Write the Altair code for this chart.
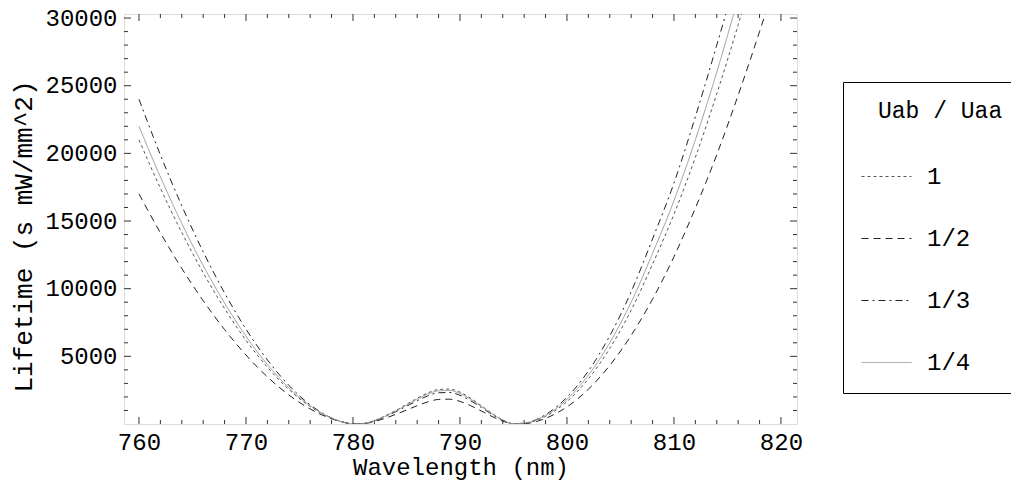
import altair as alt
import pandas as pd

# ---- data ----
wavelength = [760, 762, 764, 766, 768, 770, 772, 774, 776, 778, 779, 780,
              781, 782, 783, 784, 785, 786, 787, 788, 789, 790, 791, 792, 793, 794, 795,
              796, 798, 800, 802, 804, 806, 808, 810, 812, 814, 816, 818, 820]

life_1 = [21000, 17430, 14150, 11180, 8530, 6190, 4200, 2560, 1290, 420, 149, 10,
          40, 250, 600, 1000, 1450, 1900, 2300, 2550, 2580, 2350, 1900, 1350, 780, 300, 20,
          46, 565, 1661, 3333, 5583, 8409, 11811, 15500, 19700, 24400, 29500, 35000, 41000]
life_2 = [17000, 14130, 11500, 9115, 6980, 5100, 3485, 2150, 1110, 385, 154, 21,
          28, 178, 425, 712, 1032, 1352, 1637, 1815, 1835, 1672, 1352, 960, 555, 213, 15,
          28, 417, 1264, 2568, 4330, 6550, 9227, 12362, 15955, 19900, 24300, 29000, 34000]
life_3 = [24000, 19890, 16130, 12730, 9685, 7015, 4740, 2865, 1420, 444, 149, 5,
          35, 226, 540, 905, 1311, 1718, 2080, 2305, 2331, 2124, 1718, 1220, 705, 270, 19,
          67, 692, 1974, 3915, 6514, 9770, 13684, 17800, 22700, 28000, 33500, 39500, 46000]
life_4 = [22000, 18260, 14820, 11710, 8940, 6485, 4400, 2680, 1350, 440, 156, 10,
          38, 240, 575, 962, 1395, 1828, 2212, 2452, 2480, 2260, 1828, 1298, 750, 288, 20,
          61, 637, 1819, 3607, 6001, 9001, 12607, 16500, 21000, 26000, 31500, 37500, 44000]

series_names = ["1", "1/2", "1/3", "1/4"]
series_colors = ["#555555", "#222222", "#222222", "#999999"]
series_dashes = [[3, 3], [7, 5], [7, 4, 2, 4], [1, 0]]

x_major = [760, 770, 780, 790, 800, 810, 820]
x_minor = [762, 764, 766, 768, 772, 774, 776, 778, 782, 784, 786, 788,
           792, 794, 796, 798, 802, 804, 806, 808, 812, 814, 816, 818]
y_major = [5000, 10000, 15000, 20000, 25000, 30000]
y_minor = [1000, 2000, 3000, 4000, 6000, 7000, 8000, 9000, 11000, 12000, 13000, 14000,
           16000, 17000, 18000, 19000, 21000, 22000, 23000, 24000, 26000, 27000, 28000, 29000]

W, H = 673, 410
FONT = "Liberation Mono"
BLANK = "\u2800"  # blank glyph (not trimmed): indents the legend title and widens the box

rows = []
for name, vals in zip(series_names, [life_1, life_2, life_3, life_4]):
    for w, v in zip(wavelength, vals):
        rows.append({"wl": w, "life": v, "ratio": name})
df = pd.DataFrame(rows)

xscale = alt.Scale(domain=[758.6, 821.5], nice=False, zero=False)
yscale = alt.Scale(domain=[0, 30300], nice=False)

legend = alt.Legend(
    title=BLANK + "Uab / Uaa" + BLANK * 3, titleLimit=500,
    orient="none", legendX=719, legendY=68, direction="vertical",
    symbolType="stroke", symbolSize=2500, symbolStrokeWidth=1,
    labelFont=FONT, labelFontSize=24, labelColor="black", labelOffset=15,
    titleFont=FONT, titleFontSize=23, titleFontWeight="normal", titleColor="black",
    titlePadding=28, rowPadding=24, padding=18,
    strokeColor="black", fillColor="white",
)

lines = alt.Chart(df).mark_line(clip=True, strokeWidth=1, interpolate="monotone").encode(
    x=alt.X("wl:Q", scale=xscale,
            axis=alt.Axis(values=x_major, format="d", title="Wavelength (nm)",
                          labelFont=FONT, labelFontSize=24, labelPadding=6, labelColor="black",
                          titleFont=FONT, titleFontSize=24, titleFontWeight="normal",
                          titleColor="black", titlePadding=1,
                          ticks=False, domain=False, grid=False)),
    y=alt.Y("life:Q", scale=yscale,
            axis=alt.Axis(values=y_major, format="d", title="Lifetime (s mW/mm^2)",
                          labelFont=FONT, labelFontSize=24, labelPadding=7, labelColor="black",
                          titleFont=FONT, titleFontSize=26, titleFontWeight="normal",
                          titleColor="black", titleX=-101, titleY=222, titleAngle=270,
                          titleAlign="center", titleBaseline="middle",
                          ticks=False, domain=False, grid=False)),
    color=alt.Color("ratio:N", scale=alt.Scale(domain=series_names, range=series_colors),
                    legend=legend),
    strokeDash=alt.StrokeDash("ratio:N", scale=alt.Scale(domain=series_names, range=series_dashes),
                              legend=legend),
)

xmaj = pd.DataFrame({"wl": x_major})
xmin = pd.DataFrame({"wl": x_minor})
ymaj = pd.DataFrame({"life": y_major})
ymin = pd.DataFrame({"life": y_minor})


def xticks(d, y0, y1):
    return alt.Chart(d).mark_rule(color="#333333", strokeWidth=1).encode(
        x=alt.X("wl:Q", scale=xscale), y=alt.value(y0), y2=alt.value(y1))


def yticks(d, x0, x1):
    return alt.Chart(d).mark_rule(color="#333333", strokeWidth=1).encode(
        y=alt.Y("life:Q", scale=yscale), x=alt.value(x0), x2=alt.value(x1))


ticks = [
    xticks(xmaj, H, H - 7), xticks(xmin, H, H - 4),
    xticks(xmaj, 0, 7), xticks(xmin, 0, 4),
    yticks(ymaj, 0, 7), yticks(ymin, 0, 4),
    yticks(ymaj, W, W - 7), yticks(ymin, W, W - 4),
]

chart = alt.layer(lines, *ticks).properties(
    width=W, height=H,
    autosize=alt.AutoSizeParams(type="none"),
    padding={"left": 116, "top": 6, "right": 214, "bottom": 56},
).configure_view(stroke="#222222", strokeWidth=1).configure(font=FONT, background="white")

chart.save("out.html", embed_options={"renderer": "svg", "actions": False})
